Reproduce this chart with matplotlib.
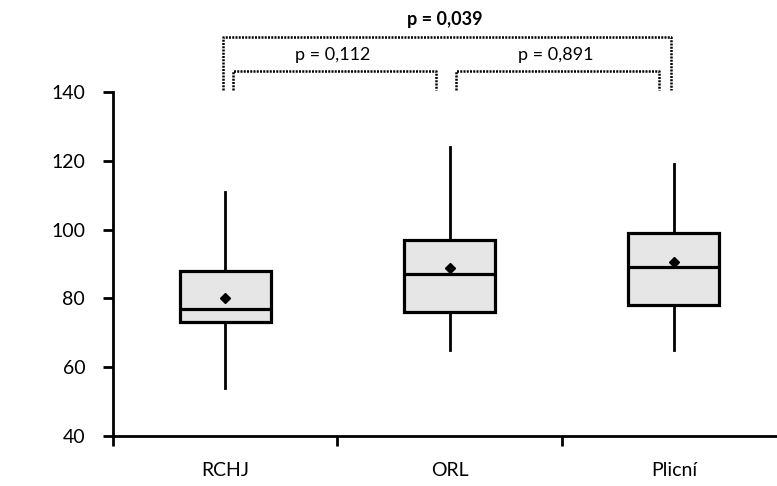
import matplotlib
matplotlib.use('Agg')
import matplotlib.pyplot as plt

plt.rcParams['font.family'] = ['Lato', 'DejaVu Sans']

# Box statistics per group
groups = ['RCHJ', 'ORL', 'Plicní']
whislo = [54, 65, 65]
q1 = [73, 76, 78]
med = [77, 87, 89]
q3 = [88, 97, 99]
whishi = [111, 124, 119]
means = [80.0, 88.7, 90.6]

yticks = [40, 60, 80, 100, 120, 140]

# pairwise p-values: (left x, right x, bracket height, label, bold)
p_labels = ['p = 0,112', 'p = 0,891', 'p = 0,039']
p_left = [1.035, 2.03, 0.99]
p_right = [1.94, 2.936, 2.986]
p_level = [146.0, 146.0, 156.1]
p_bold = [False, False, True]

fig = plt.figure(figsize=(7.77, 4.86), dpi=100)
ax = fig.add_axes([113/777, 1 - 436/486, 673/777, 344/486])

stats = []
for i in range(len(groups)):
    stats.append(dict(whislo=whislo[i], q1=q1[i], med=med[i], q3=q3[i],
                      whishi=whishi[i], mean=means[i], label=groups[i]))

ax.bxp(stats, positions=[1, 2, 3], widths=0.405, showmeans=True,
       showcaps=False, showfliers=False, patch_artist=True,
       boxprops=dict(facecolor='#e6e6e6', edgecolor='black', linewidth=2.3),
       medianprops=dict(color='black', linewidth=2.3),
       whiskerprops=dict(color='black', linewidth=2.0),
       meanprops=dict(marker='D', markerfacecolor='black',
                      markeredgecolor='black', markersize=5.5))

ax.set_xlim(0.5, 3.5)
ax.set_ylim(40, 140)
ax.set_yticks(yticks)
ax.tick_params(axis='y', direction='out', length=7, width=2, pad=13,
               labelsize=14)

# category labels without ticks, boundary ticks without labels
ax.set_xticks([1, 2, 3])
ax.set_xticklabels(groups)
ax.tick_params(axis='x', which='major', length=0, pad=19, labelsize=14)
ax.set_xticks([0.5, 1.5, 2.5], minor=True)
ax.tick_params(axis='x', which='minor', direction='out', length=7, width=2)

for s in ['top', 'right']:
    ax.spines[s].set_visible(False)
ax.spines['left'].set_linewidth(2)
ax.spines['bottom'].set_linewidth(2)

# significance brackets
for i in range(len(p_labels)):
    x0, x1, y = p_left[i], p_right[i], p_level[i]
    ax.plot([x0, x0, x1, x1], [140.7, y, y, 140.7], color='black',
            linewidth=1.8, linestyle=(0, (0.8, 0.5)), clip_on=False)
    ax.text((x0 + x1) / 2 - 0.01, y + 2.4, p_labels[i], ha='center',
            va='bottom', fontsize=13,
            fontweight='bold' if p_bold[i] else 'normal')

fig.savefig('out.png', dpi=100)
